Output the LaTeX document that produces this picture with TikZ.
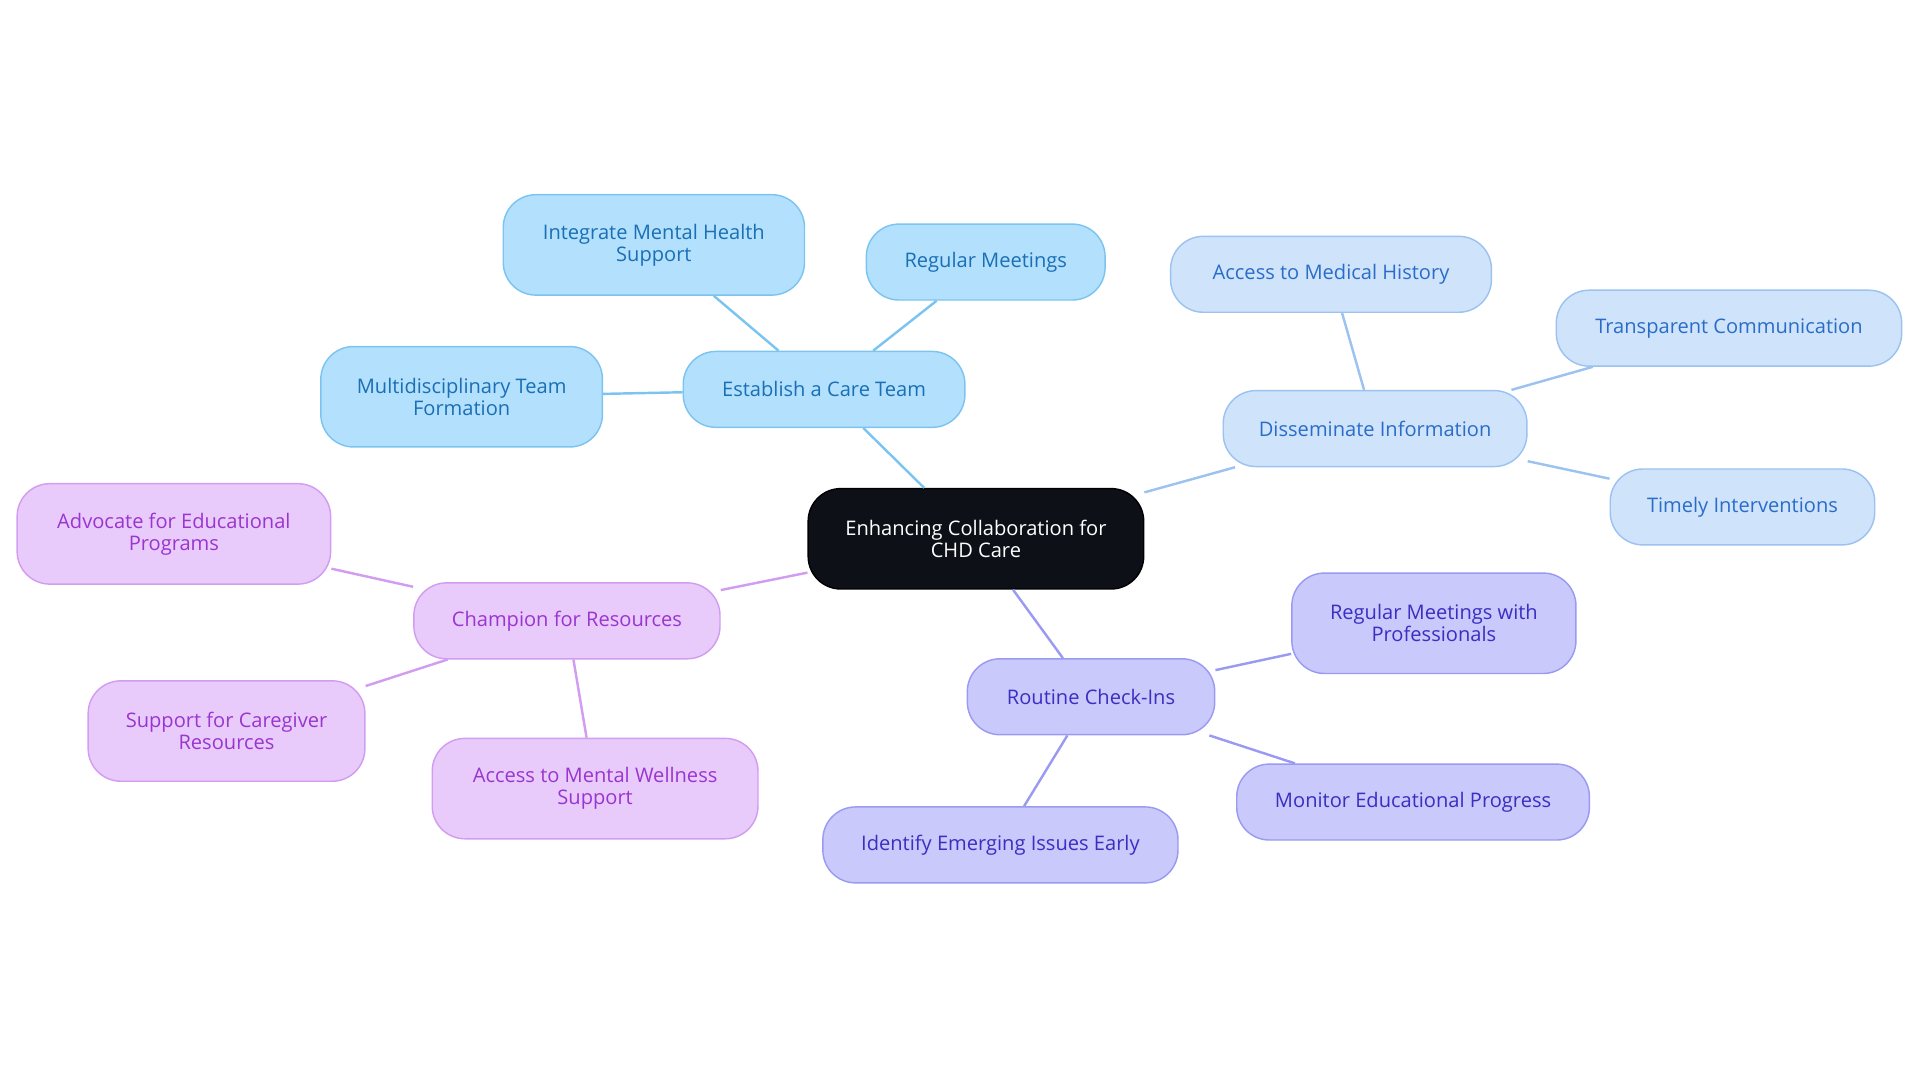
\documentclass[tikz,border=0pt]{standalone}
\usepackage{fontspec}
\setmainfont{Open Sans}
\begin{document}
\begin{tikzpicture}[x=0.03cm,y=-0.03cm,
 base/.style={draw,rounded corners=0.8cm,line width=1pt,align=center,font=\fontsize{14}{15.5}\selectfont,inner sep=0pt},
 root/.style={base,fill=black!90!blue!60!black,draw=black,text=white},
 blue/.style={base,fill=c1f,draw=c1d,text=c1t},
 sky/.style={base,fill=c2f,draw=c2d,text=c2t},
 ind/.style={base,fill=c3f,draw=c3d,text=c3t},
 pur/.style={base,fill=c4f,draw=c4d,text=c4t},
 e1/.style={draw=c1d,line width=1.7pt},
 e2/.style={draw=c2d,line width=1.7pt},
 e3/.style={draw=c3d,line width=1.7pt},
 e4/.style={draw=c4d,line width=1.7pt}]
\definecolor{c1f}{HTML}{B3E0FD}\definecolor{c1d}{HTML}{7CC4F0}\definecolor{c1t}{HTML}{1A6FB5}
\definecolor{c2f}{HTML}{CFE3FB}\definecolor{c2d}{HTML}{9CC2F0}\definecolor{c2t}{HTML}{2A6DC9}
\definecolor{c3f}{HTML}{C9C9FB}\definecolor{c3d}{HTML}{9A9AF0}\definecolor{c3t}{HTML}{3A2FC0}
\definecolor{c4f}{HTML}{E8CBFB}\definecolor{c4d}{HTML}{D29CF0}\definecolor{c4t}{HTML}{9A35D0}
\definecolor{rootc}{HTML}{0D1117}
\useasboundingbox (0,0) rectangle (1568,884);
\newcommand{\nd}[6]{\node[#1,minimum width=#4*0.03cm,minimum height=#5*0.03cm] (#6) at (#2,#3) {#6text};}
\node[base,fill=rootc,draw=black,text=white,minimum width=8.22cm,minimum height=2.46cm] (r) at (797,440) {Enhancing Collaboration for\\CHD Care};
\node[blue,minimum width=6.9cm,minimum height=1.86cm] (a) at (673,318) {Establish a Care Team};
\node[blue,minimum width=7.38cm,minimum height=2.46cm] (a1) at (534,200) {Integrate Mental Health\\Support};
\node[blue,minimum width=5.85cm,minimum height=1.86cm] (a2) at (805,214) {Regular Meetings};
\node[blue,minimum width=6.9cm,minimum height=2.46cm] (a3) at (377,324) {Multidisciplinary Team\\Formation};
\node[sky,minimum width=7.44cm,minimum height=1.86cm] (b) at (1123,350) {Disseminate Information};
\node[sky,minimum width=7.86cm,minimum height=1.86cm] (b1) at (1087,224) {Access to Medical History};
\node[sky,minimum width=8.46cm,minimum height=1.86cm] (b2) at (1412,268) {Transparent Communication};
\node[sky,minimum width=6.48cm,minimum height=1.86cm] (b3) at (1423,414) {Timely Interventions};
\node[ind,minimum width=6.06cm,minimum height=1.86cm] (c) at (891,569) {Routine Check-Ins};
\node[ind,minimum width=6.96cm,minimum height=2.46cm] (c1) at (1171,509) {Regular Meetings with\\Professionals};
\node[ind,minimum width=8.64cm,minimum height=1.86cm] (c2) at (1154,655) {Monitor Educational Progress};
\node[ind,minimum width=8.7cm,minimum height=1.86cm] (c3) at (817,690) {Identify Emerging Issues Early};
\node[pur,minimum width=7.5cm,minimum height=1.86cm] (d) at (463,507) {Champion for Resources};
\node[pur,minimum width=7.68cm,minimum height=2.46cm] (d1) at (142,436) {Advocate for Educational\\Programs};
\node[pur,minimum width=6.78cm,minimum height=2.46cm] (d2) at (185,597) {Support for Caregiver\\Resources};
\node[pur,minimum width=7.98cm,minimum height=2.46cm] (d3) at (486,644) {Access to Mental Wellness\\Support};
\begin{scope}[on background layer/.style={}]
\end{scope}
\draw[e1] (r) -- (a); \draw[e1] (a) -- (a1); \draw[e1] (a) -- (a2); \draw[e1] (a) -- (a3);
\draw[e2] (r) -- (b); \draw[e2] (b) -- (b1); \draw[e2] (b) -- (b2); \draw[e2] (b) -- (b3);
\draw[e3] (r) -- (c); \draw[e3] (c) -- (c1); \draw[e3] (c) -- (c2); \draw[e3] (c) -- (c3);
\draw[e4] (r) -- (d); \draw[e4] (d) -- (d1); \draw[e4] (d) -- (d2); \draw[e4] (d) -- (d3);
\end{tikzpicture}
\end{document}
